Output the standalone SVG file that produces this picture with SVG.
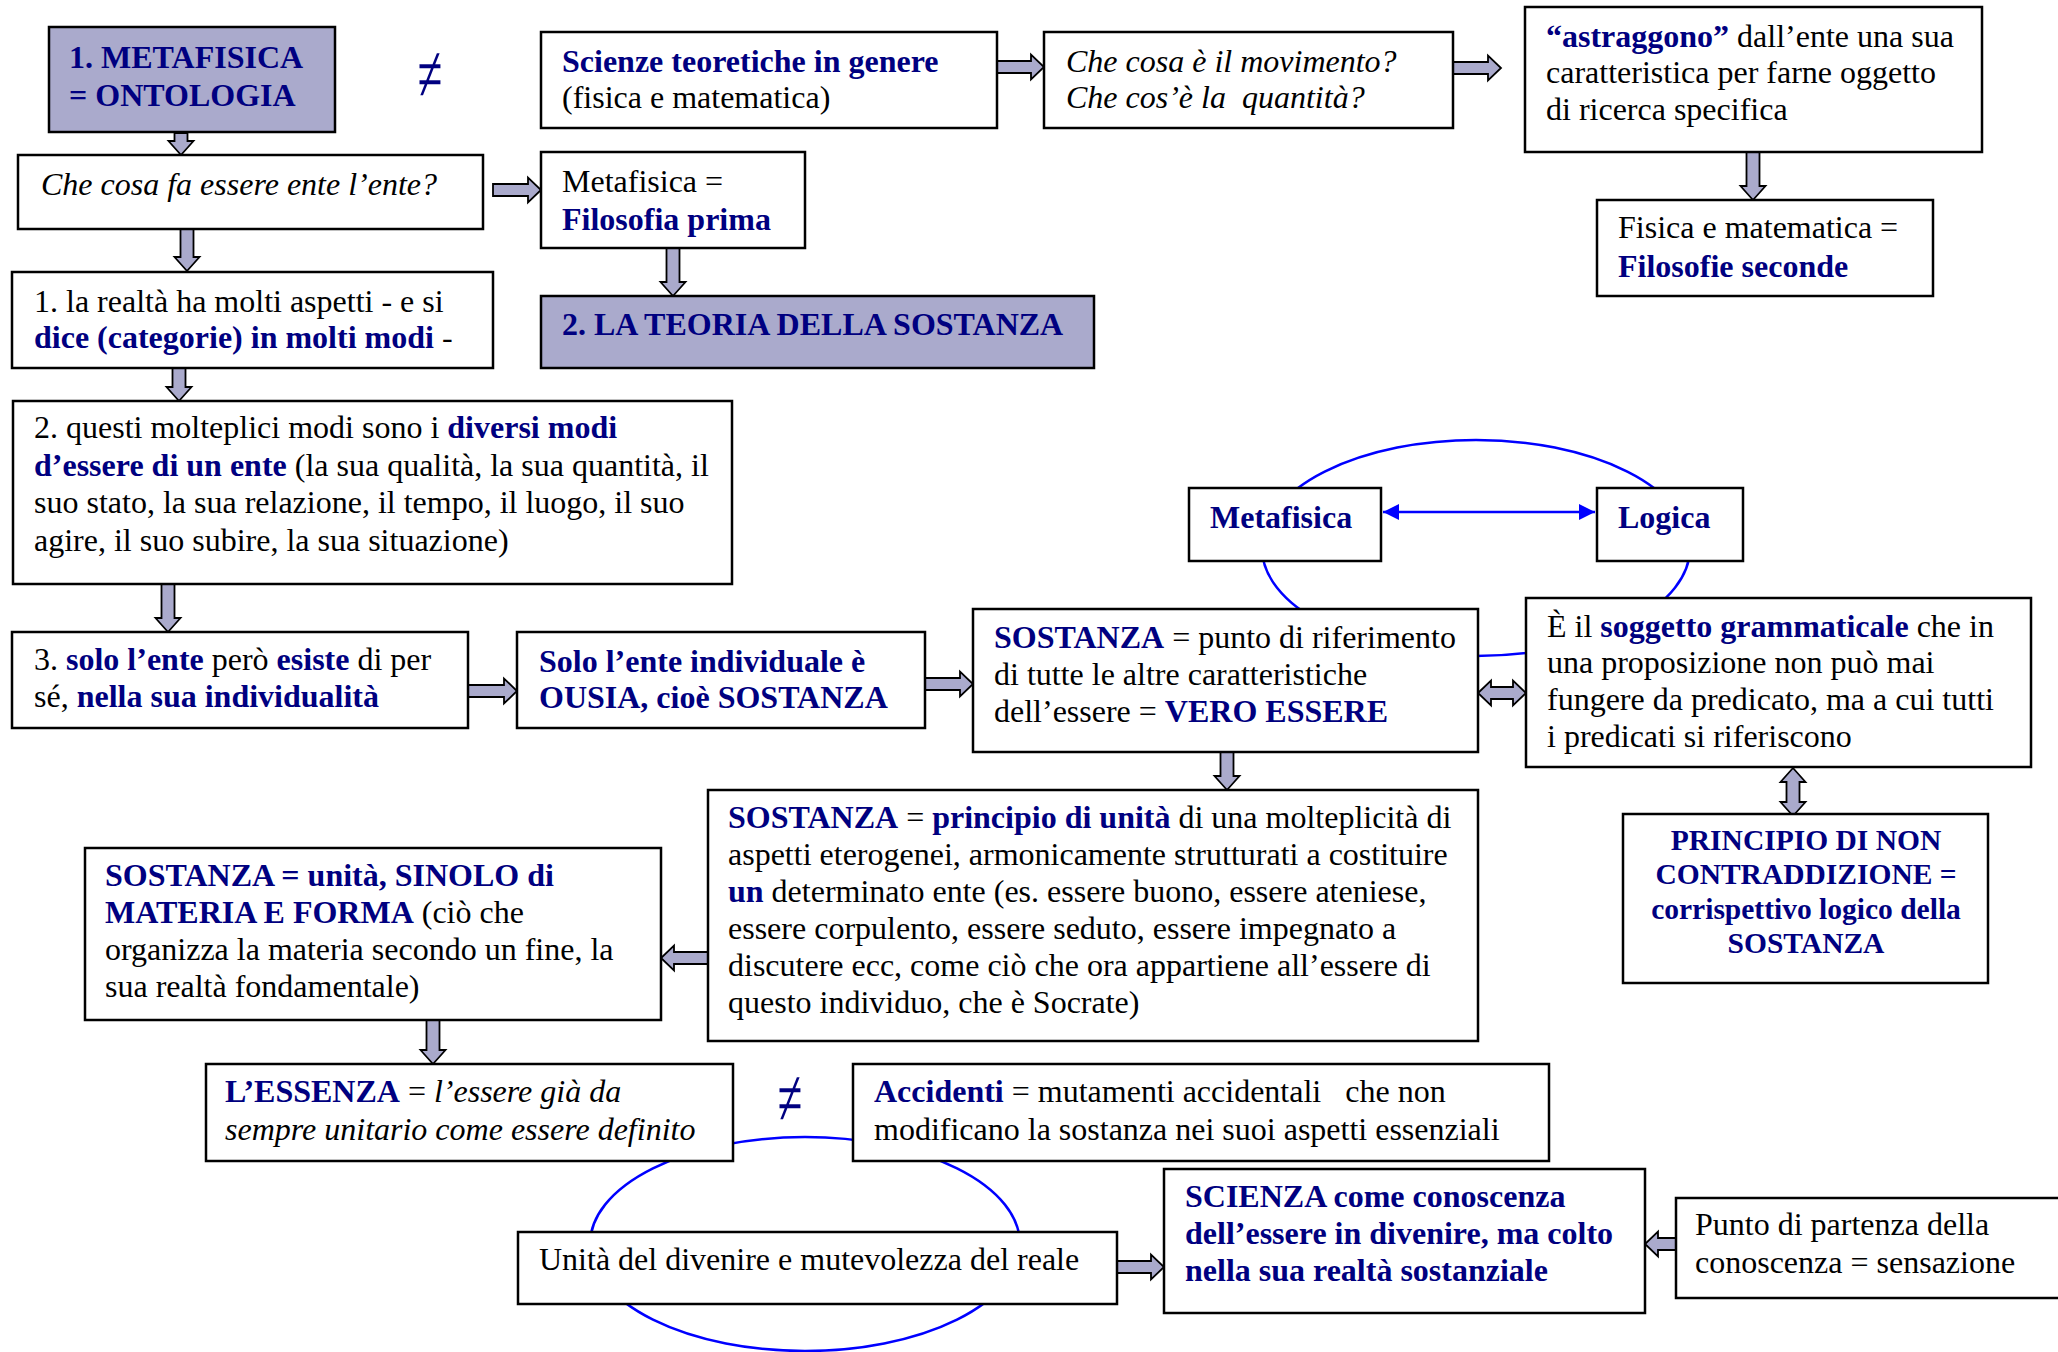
<svg xmlns="http://www.w3.org/2000/svg" width="2058" height="1352" viewBox="0 0 2058 1352">
<defs>
<style>
.box{fill:#fff;stroke:#000;stroke-width:2.5}
.hl{fill:#AAAACC;stroke:#000;stroke-width:2.5}
.t{font-family:"Liberation Serif","Times New Roman",serif;font-size:32px;fill:#000}
.b{font-weight:bold;fill:#000080}
.i{font-style:italic}
.arr{fill:#AAAACC;stroke:#000;stroke-width:1.8;stroke-linejoin:miter}
.ell{fill:none;stroke:#0000FF;stroke-width:2.5}
.ne{font-family:"Liberation Serif","DejaVu Serif",serif;font-size:50px;fill:#000080;text-anchor:middle}
.pc{font-family:"Liberation Serif","Times New Roman",serif;font-size:29.5px;font-weight:bold;fill:#000080;text-anchor:middle}
</style>
<marker id="bh" markerUnits="userSpaceOnUse" markerWidth="16" markerHeight="16" viewBox="0 0 16 16" refX="16" refY="8" orient="auto-start-reverse">
<path d="M0,0 L16,8 L0,16 z" fill="#0000FF"/>
</marker>
</defs>
<rect width="2058" height="1352" fill="#fff"/>

<g id="connectors">
<ellipse class="ell" cx="1476" cy="548" rx="214" ry="108"/>
<ellipse class="ell" cx="805" cy="1244" rx="215" ry="107"/>
<line x1="1383" y1="512" x2="1595" y2="512" stroke="#0000FF" stroke-width="2.5" marker-start="url(#bh)" marker-end="url(#bh)"/>
<path class="arr" d="M174.5,133 H187.5 V141 H193.5 L181,155 L168.5,141 H174.5 Z"/>
<path class="arr" d="M180.5,229 H193.5 V257 H199.5 L187,271 L174.5,257 H180.5 Z"/>
<path class="arr" d="M172.5,368 H185.5 V387 H191.5 L179,401 L166.5,387 H172.5 Z"/>
<path class="arr" d="M161.5,584 H174.5 V618 H180.5 L168,632 L155.5,618 H161.5 Z"/>
<path class="arr" d="M666.5,248 H679.5 V282 H685.5 L673,296 L660.5,282 H666.5 Z"/>
<path class="arr" d="M1746.5,152 H1759.5 V186 H1765.5 L1753,200 L1740.5,186 H1746.5 Z"/>
<path class="arr" d="M1220.5,752 H1233.5 V776 H1239.5 L1227,790 L1214.5,776 H1220.5 Z"/>
<path class="arr" d="M426.5,1020 H439.5 V1050 H445.5 L433,1064 L420.5,1050 H426.5 Z"/>
<path class="arr" d="M468,685 H504 V678.5 L517,691 L504,703.5 V697 H468 Z"/>
<path class="arr" d="M925,678 H960 V671.5 L973,684 L960,696.5 V690 H925 Z"/>
<path class="arr" d="M493,184 H528 V177.5 L541,190 L528,202.5 V196 H493 Z"/>
<path class="arr" d="M997,61 H1031 V54.5 L1044,67 L1031,79.5 V73 H997 Z"/>
<path class="arr" d="M1453,62 H1488 V55.5 L1501,68 L1488,80.5 V74 H1453 Z"/>
<path class="arr" d="M1117,1261 H1151 V1254.5 L1164,1267 L1151,1279.5 V1273 H1117 Z"/>
<path class="arr" d="M708,952 H674 V945.5 L661,958 L674,970.5 V964 H708 Z"/>
<path class="arr" d="M1676,1238 H1658 V1231.5 L1645,1244 L1658,1256.5 V1250 H1676 Z"/>
<path class="arr" d="M1478,693 L1491,680.5 V687 H1513 V680.5 L1526,693 L1513,705.5 V699 H1491 V705.5 Z"/>
<path class="arr" d="M1793,768 L1805.5,782 H1799.5 V802 H1805.5 L1793,816 L1780.5,802 H1786.5 V782 H1780.5 Z"/>
</g>

<g id="n1">
<rect class="hl" x="49" y="27" width="286" height="105"/>
<text class="t b" x="69" y="68">1. METAFISICA</text>
<text class="t b" x="69" y="106">= ONTOLOGIA</text>
</g>
<g id="neq1"><text class="ne" transform="translate(430,100.5) scale(0.9,1.6)" x="0" y="0">≠</text></g>
<g id="n2">
<rect class="box" x="541" y="32" width="456" height="96"/>
<text class="t b" x="562" y="72">Scienze teoretiche in genere</text>
<text class="t" x="562" y="108">(fisica e matematica)</text>
</g>
<g id="n3">
<rect class="box" x="1044" y="32" width="409" height="96"/>
<text class="t i" x="1066" y="72">Che cosa è il movimento?</text>
<text class="t i" x="1066" y="108" xml:space="preserve">Che cos’è la  quantità?</text>
</g>
<g id="n4">
<rect class="box" x="1525" y="7" width="457" height="145"/>
<text class="t" x="1546" y="47"><tspan class="b">“astraggono”</tspan> dall’ente una sua</text>
<text class="t" x="1546" y="83">caratteristica per farne oggetto</text>
<text class="t" x="1546" y="120">di ricerca specifica</text>
</g>
<g id="n5">
<rect class="box" x="1597" y="200" width="336" height="96"/>
<text class="t" x="1618" y="238">Fisica e matematica =</text>
<text class="t b" x="1618" y="277">Filosofie seconde</text>
</g>
<g id="n6">
<rect class="box" x="18" y="155" width="465" height="74"/>
<text class="t i" x="41" y="195">Che cosa fa essere ente l’ente?</text>
</g>
<g id="n7">
<rect class="box" x="541" y="152" width="264" height="96"/>
<text class="t" x="562" y="192">Metafisica =</text>
<text class="t b" x="562" y="230">Filosofia prima</text>
</g>
<g id="n8">
<rect class="hl" x="541" y="296" width="553" height="72"/>
<text class="t b" x="562" y="335">2. LA TEORIA DELLA SOSTANZA</text>
</g>
<g id="n9">
<rect class="box" x="12" y="272" width="481" height="96"/>
<text class="t" x="34" y="312">1. la realtà ha molti aspetti - e si</text>
<text class="t" x="34" y="348"><tspan class="b">dice (categorie) in molti modi</tspan> -</text>
</g>
<g id="n10">
<rect class="box" x="13" y="401" width="719" height="183"/>
<text class="t" x="34" y="438">2. questi molteplici modi sono i <tspan class="b">diversi modi</tspan></text>
<text class="t" x="34" y="476"><tspan class="b">d’essere di un ente</tspan> (la sua qualità, la sua quantità, il</text>
<text class="t" x="34" y="513">suo stato, la sua relazione, il tempo, il luogo, il suo</text>
<text class="t" x="34" y="551">agire, il suo subire, la sua situazione)</text>
</g>
<g id="n11">
<rect class="box" x="12" y="632" width="456" height="96"/>
<text class="t" x="34" y="670">3. <tspan class="b">solo l’ente</tspan> però <tspan class="b">esiste</tspan> di per</text>
<text class="t" x="34" y="707">sé, <tspan class="b">nella sua individualità</tspan></text>
</g>
<g id="n12">
<rect class="box" x="517" y="632" width="408" height="96"/>
<text class="t b" x="539" y="672">Solo l’ente individuale è</text>
<text class="t b" x="539" y="708">OUSIA, cioè SOSTANZA</text>
</g>
<g id="n13">
<rect class="box" x="973" y="609" width="505" height="143"/>
<text class="t" x="994" y="648"><tspan class="b">SOSTANZA</tspan> = punto di riferimento</text>
<text class="t" x="994" y="685">di tutte le altre caratteristiche</text>
<text class="t" x="994" y="722">dell’essere = <tspan class="b">VERO ESSERE</tspan></text>
</g>
<g id="n14">
<rect class="box" x="1189" y="488" width="192" height="73"/>
<text class="t b" x="1210" y="528">Metafisica</text>
</g>
<g id="n15">
<rect class="box" x="1597" y="488" width="146" height="73"/>
<text class="t b" x="1618" y="528">Logica</text>
</g>
<g id="n16">
<rect class="box" x="1526" y="598" width="505" height="169"/>
<text class="t" x="1547" y="637">È il <tspan class="b">soggetto grammaticale</tspan> che in</text>
<text class="t" x="1547" y="673">una proposizione non può mai</text>
<text class="t" x="1547" y="710">fungere da predicato, ma a cui tutti</text>
<text class="t" x="1547" y="747">i predicati si riferiscono</text>
</g>
<g id="n17">
<rect class="box" x="1623" y="814" width="365" height="169"/>
<text class="pc" x="1806" y="850">PRINCIPIO DI NON</text>
<text class="pc" x="1806" y="884">CONTRADDIZIONE =</text>
<text class="pc" x="1806" y="919">corrispettivo logico della</text>
<text class="pc" x="1806" y="953">SOSTANZA</text>
</g>
<g id="n18">
<rect class="box" x="708" y="790" width="770" height="251"/>
<text class="t" x="728" y="828"><tspan class="b">SOSTANZA</tspan> = <tspan class="b">principio di unità</tspan> di una molteplicità di</text>
<text class="t" x="728" y="865">aspetti eterogenei, armonicamente strutturati a costituire</text>
<text class="t" x="728" y="902"><tspan class="b">un</tspan> determinato ente (es. essere buono, essere ateniese,</text>
<text class="t" x="728" y="939">essere corpulento, essere seduto, essere impegnato a</text>
<text class="t" x="728" y="976">discutere ecc, come ciò che ora appartiene all’essere di</text>
<text class="t" x="728" y="1013">questo individuo, che è Socrate)</text>
</g>
<g id="n19">
<rect class="box" x="85" y="848" width="576" height="172"/>
<text class="t b" x="105" y="886">SOSTANZA = unità, SINOLO di</text>
<text class="t" x="105" y="923"><tspan class="b">MATERIA E FORMA</tspan> (ciò che</text>
<text class="t" x="105" y="960">organizza la materia secondo un fine, la</text>
<text class="t" x="105" y="997">sua realtà fondamentale)</text>
</g>
<g id="n20">
<rect class="box" x="206" y="1064" width="527" height="97"/>
<text class="t" x="225" y="1102"><tspan class="b">L’ESSENZA</tspan> = <tspan class="i">l’essere già da</tspan></text>
<text class="t i" x="225" y="1140">sempre unitario come essere definito</text>
</g>
<g id="neq2"><text class="ne" transform="translate(790,1125) scale(0.9,1.6)" x="0" y="0">≠</text></g>
<g id="n21">
<rect class="box" x="853" y="1064" width="696" height="97"/>
<text class="t" x="874" y="1102" xml:space="preserve"><tspan class="b">Accidenti</tspan> = mutamenti accidentali   che non</text>
<text class="t" x="874" y="1140">modificano la sostanza nei suoi aspetti essenziali</text>
</g>
<g id="n22">
<rect class="box" x="518" y="1232" width="599" height="72"/>
<text class="t" x="539" y="1270">Unità del divenire e mutevolezza del reale</text>
</g>
<g id="n23">
<rect class="box" x="1164" y="1169" width="481" height="144"/>
<text class="t b" x="1185" y="1207">SCIENZA come conoscenza</text>
<text class="t b" x="1185" y="1244">dell’essere in divenire, ma colto</text>
<text class="t b" x="1185" y="1281">nella sua realtà sostanziale</text>
</g>
<g id="n24">
<rect class="box" x="1676" y="1198" width="400" height="100"/>
<text class="t" x="1695" y="1235">Punto di partenza della</text>
<text class="t" x="1695" y="1273">conoscenza = sensazione</text>
</g>
</svg>
